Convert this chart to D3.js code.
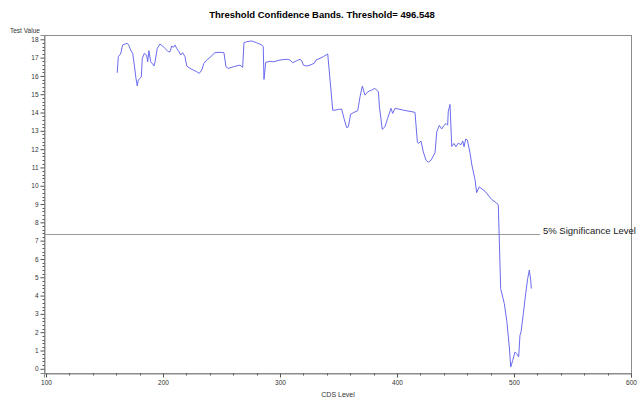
<!DOCTYPE html>
<html>
<head>
<meta charset="utf-8">
<script src="https://cdn.jsdelivr.net/npm/d3@7"></script>
<style>
  html, body { margin: 0; padding: 0; background: #fff; }
  svg { display: block; font-family: "Liberation Sans", Arial, sans-serif; }
</style>
</head>
<body>
<svg id="chart" width="644" height="403"></svg>
<script>
// CDS level (x) and threshold test statistic (y)
const cdsLevels = [
  160.9, 161.8, 163.8, 165.5, 167.5, 169.5, 170.7, 172.4, 174.1, 175.5,
  176.9, 178.0, 178.9, 180.3, 181.5, 182.3, 184.0, 186.0, 186.9, 188.0,
  189.5, 191.2, 192.3, 193.2, 195.1, 197.4, 199.7, 201.7, 203.2, 204.5,
  206.0, 207.4, 208.8, 210.3, 211.7, 213.7, 215.1, 216.8, 218.8, 220.3,
  223.1, 225.9, 228.8, 231.0, 233.1, 235.0, 237.4, 240.2, 244.4, 248.7,
  252.1, 253.8, 255.8, 260.1, 265.8, 268.1, 269.2, 271.5, 275.8, 280.1,
  284.4, 285.7, 286.3, 287.8, 291.5, 294.3, 300.0, 305.7, 308.5, 310.9,
  314.3, 317.1, 318.5, 320.0, 322.8, 325.6, 329.3, 330.8, 334.2, 337.0,
  340.8, 345.1, 347.0, 349.8, 352.7, 354.7, 357.0, 358.4, 360.4, 362.7,
  366.4, 368.4, 370.4, 372.6, 375.0, 378.4, 381.2, 384.1, 385.0, 387.4,
  389.7, 392.0, 394.9, 396.3, 398.3, 405.4, 415.4, 417.4, 418.3, 420.5,
  422.5, 424.8, 426.8, 429.1, 432.5, 434.0, 436.2, 438.2, 440.2, 441.9,
  443.3, 443.8, 445.3, 446.8, 448.7, 450.4, 452.4, 454.7, 456.2, 457.3,
  458.7, 460.1, 462.4, 464.0, 466.7, 468.1, 470.3, 475.2, 480.9, 485.2,
  486.6, 488.6, 491.7, 493.8, 496.0, 497.2, 498.9, 500.9, 502.3, 504.0,
  505.1, 506.0, 508.0, 510.0, 511.7, 513.1, 514.3, 514.8
];
const testValues = [
  16.17, 17.05, 17.20, 17.69, 17.74, 17.78, 17.69, 17.41, 17.23, 16.59,
  15.87, 15.45, 15.77, 15.87, 15.95, 16.96, 17.23, 17.14, 16.77, 17.38,
  16.77, 16.65, 16.54, 16.77, 17.50, 17.74, 17.63, 17.50, 17.41, 17.32,
  17.32, 17.63, 17.56, 17.69, 17.50, 17.32, 17.14, 17.27, 17.05, 16.54,
  16.41, 16.32, 16.23, 16.14, 16.32, 16.69, 16.87, 17.01, 17.27, 17.29,
  17.27, 16.50, 16.41, 16.50, 16.59, 16.47, 17.81, 17.87, 17.91, 17.81,
  17.69, 17.60, 15.81, 16.74, 16.80, 16.77, 16.87, 16.91, 16.87, 16.72,
  16.83, 16.91, 16.83, 16.59, 16.54, 16.59, 16.69, 16.87, 16.96, 17.05,
  17.20, 14.12, 14.13, 14.17, 14.19, 13.68, 13.17, 13.22, 13.91, 13.99,
  14.10, 14.86, 15.45, 14.95, 15.13, 15.23, 15.32, 15.13, 14.31, 13.08,
  13.22, 13.68, 14.23, 13.95, 14.23, 14.13, 14.01, 12.40, 12.31, 12.44,
  11.85, 11.40, 11.28, 11.40, 11.80, 12.95, 13.30, 13.10, 13.30, 13.40,
  13.31, 14.04, 14.44, 12.15, 12.31, 12.13, 12.33, 12.24, 12.45, 12.13,
  12.55, 12.50, 11.80, 11.13, 10.33, 9.62, 9.94, 9.70, 9.25, 9.05,
  8.94, 4.38, 3.56, 2.65, 1.19, 0.10, 0.46, 0.92, 0.83, 0.65,
  1.83, 2.01, 3.02, 4.11, 4.93, 5.39, 4.84, 4.38
];

const xTickValues = [100, 200, 300, 400, 500, 600];
const yTickValues = [0, 1, 2, 3, 4, 5, 6, 7, 8, 9, 10, 11, 12, 13, 14, 15, 16, 17, 18];
const significanceLevel = 7.39;
const significanceLabel = "5% Significance Level";
const titleText = "Threshold Confidence Bands. Threshold= 496.548";
const xAxisTitle = "CDS Level";
const yAxisTitle = "Test Value";

const svg = d3.select("#chart");
const frame = { left: 44, right: 631, top: 35, bottom: 373 };

const x = d3.scaleLinear().domain([98.3, 600]).range([frame.left, frame.right]);
const y = d3.scaleLinear().domain([-0.23, 18.235]).range([frame.bottom, frame.top]);

// plot frame
svg.append("rect")
  .attr("x", frame.left + 0.5).attr("y", frame.top + 0.5)
  .attr("width", frame.right - frame.left).attr("height", frame.bottom - frame.top)
  .attr("fill", "none").attr("stroke", "#8c8c8c").attr("stroke-width", 1);

const axisColor = "#555";

// y axis: majors with labels, minors every 0.2
const yMinor = d3.range(0, 18.01, 0.2).filter(v => Math.abs(v - Math.round(v)) > 1e-6);
const yAxisG = svg.append("g").attr("transform", `translate(${frame.left + 0.5},0)`);
yAxisG.call(d3.axisLeft(y).tickValues(yTickValues).tickSize(4).tickPadding(2).tickFormat(d3.format("d")));
yAxisG.selectAll(".tick").filter(() => true);
yAxisG.append("g").selectAll("line").data(yMinor).join("line")
  .attr("x1", -2).attr("x2", 0)
  .attr("y1", d => Math.round(y(d)) + 0.5).attr("y2", d => Math.round(y(d)) + 0.5)
  .attr("stroke", axisColor);

// x axis: majors with labels, minors every 20
const xMinor = d3.range(120, 600, 20).filter(v => v % 100 !== 0);
const xAxisG = svg.append("g").attr("transform", `translate(0,${frame.bottom + 0.5})`);
xAxisG.call(d3.axisBottom(x).tickValues(xTickValues).tickSize(4).tickPadding(3).tickFormat(d3.format("d")));
xAxisG.append("g").selectAll("line").data(xMinor).join("line")
  .attr("y1", 0).attr("y2", 2)
  .attr("x1", d => Math.round(x(d)) + 0.5).attr("x2", d => Math.round(x(d)) + 0.5)
  .attr("stroke", axisColor);

[yAxisG, xAxisG].forEach(g => {
  g.select(".domain").attr("stroke", "#8c8c8c");
  g.selectAll(".tick line").attr("stroke", axisColor);
  g.selectAll(".tick text").attr("fill", "#333").attr("font-size", 6.5)
    .attr("font-family", '"Liberation Sans", Arial, sans-serif');
});

// significance reference line with label
const sigY = Math.round(y(significanceLevel)) + 0.5;
svg.append("line")
  .attr("x1", frame.left + 1).attr("x2", 540)
  .attr("y1", sigY).attr("y2", sigY)
  .attr("stroke", "#9a9a9a").attr("stroke-width", 1);
svg.append("text")
  .attr("x", 543).attr("y", sigY - 0.5)
  .attr("font-size", 9.5).attr("fill", "#222")
  .text(significanceLabel);

// test statistic curve
const points = cdsLevels.map((c, i) => [c, testValues[i]]);
svg.append("path")
  .datum(points)
  .attr("fill", "none")
  .attr("stroke", "#6b6bf0")
  .attr("stroke-width", 1)
  .attr("d", d3.line().x(d => x(d[0])).y(d => y(d[1])));

// titles
svg.append("text")
  .attr("x", 322).attr("y", 18)
  .attr("text-anchor", "middle")
  .attr("font-size", 9.5).attr("font-weight", "bold").attr("fill", "#000")
  .text(titleText);
svg.append("text")
  .attr("x", 10).attr("y", 33)
  .attr("font-size", 6.5).attr("fill", "#333")
  .text(yAxisTitle);
svg.append("text")
  .attr("x", 338).attr("y", 397)
  .attr("text-anchor", "middle")
  .attr("font-size", 7).attr("fill", "#333")
  .text(xAxisTitle);
</script>
</body>
</html>
